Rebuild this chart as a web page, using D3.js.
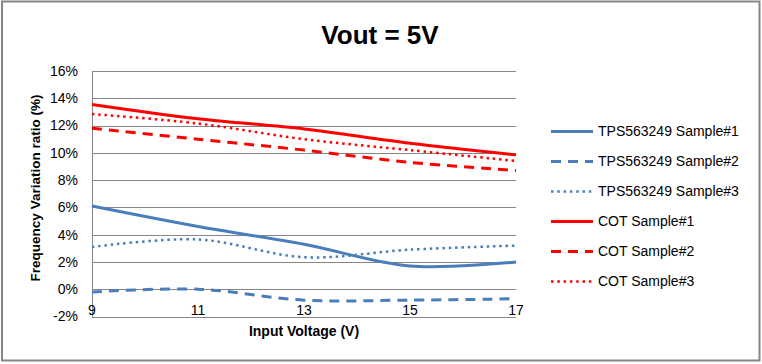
<!DOCTYPE html>
<html><head><meta charset="utf-8">
<script src="https://cdn.jsdelivr.net/npm/d3@7"></script>
<style>
html,body{margin:0;padding:0;background:#fff;}
svg{display:block;font-family:"Liberation Sans",Arial,sans-serif;}
</style></head>
<body>
<svg id="chart" width="762" height="364"></svg>
<script>
const inputVoltage = [9, 11, 13, 15, 17];
const tpsSample1 = [6.1, 4.6, 3.3, 1.7, 2.0];
const tpsSample2 = [-0.2, 0.0, -0.8, -0.8, -0.7];
const tpsSample3 = [3.1, 3.65, 2.35, 2.9, 3.2];
const cotSample1 = [13.55, 12.5, 11.75, 10.7, 9.85];
const cotSample2 = [11.8, 11.0, 10.2, 9.3, 8.7];
const cotSample3 = [12.85, 12.15, 11.0, 10.2, 9.4];
const seriesNames = ["TPS563249 Sample#1","TPS563249 Sample#2","TPS563249 Sample#3","COT Sample#1","COT Sample#2","COT Sample#3"];
const yTicks = [-2, 0, 2, 4, 6, 8, 10, 12, 14, 16];
const xTicks = [9, 11, 13, 15, 17];

const seriesValues = [tpsSample1, tpsSample2, tpsSample3, cotSample1, cotSample2, cotSample3];
const styles = [
  {color:"#4A7EBB", dash:null, w:3},
  {color:"#4A7EBB", dash:"10,7", w:3},
  {color:"#4A7EBB", dash:"2.5,3.8", w:2.5},
  {color:"#FF0000", dash:null, w:3},
  {color:"#FF0000", dash:"10,7", w:3},
  {color:"#FF0000", dash:"2.5,3.8", w:2.5}
];

const svg = d3.select("#chart");
const pLeft = 92, pRight = 516, pTop = 71, pBottom = 316.5;
const x = d3.scaleLinear().domain([9, 17]).range([pLeft, pRight]);
const y = d3.scaleLinear().domain([-2, 16]).range([pBottom, pTop]);

// chart frame
svg.append("rect").attr("x", 2).attr("y", 1.5).attr("width", 757.5).attr("height", 359)
  .attr("fill", "#fff").attr("stroke", "#868686").attr("stroke-width", 2);

// title
svg.append("text").attr("x", 380).attr("y", 44).attr("text-anchor", "middle")
  .attr("font-size", 26).attr("font-weight", "bold").text("Vout = 5V");

// gridlines
svg.append("g").selectAll("line").data(yTicks).join("line")
  .attr("x1", pLeft).attr("x2", pRight)
  .attr("y1", d => Math.round(y(d)) + 0.5).attr("y2", d => Math.round(y(d)) + 0.5)
  .attr("stroke", "#868686").attr("stroke-width", 1);
// left axis line
svg.append("line").attr("x1", pLeft + 0.5).attr("x2", pLeft + 0.5).attr("y1", pTop).attr("y2", pBottom + 1)
  .attr("stroke", "#868686").attr("stroke-width", 1);

// y tick labels
svg.append("g").selectAll("text").data(yTicks).join("text")
  .attr("x", 78).attr("y", d => y(d)).attr("dy", "0.35em").attr("text-anchor", "end")
  .attr("font-size", 14).attr("fill", "#000").text(d => d + "%");

// x tick labels
svg.append("g").selectAll("text").data(xTicks).join("text")
  .attr("x", d => x(d)).attr("y", 315).attr("text-anchor", "middle")
  .attr("font-size", 14).attr("fill", "#000").text(d => d);

// axis titles
svg.append("text").attr("x", 304).attr("y", 336).attr("text-anchor", "middle")
  .attr("font-size", 14).attr("font-weight", "bold").text("Input Voltage (V)");
svg.append("text").attr("transform", "translate(40,188) rotate(-90)").attr("text-anchor", "middle")
  .attr("font-size", 13.5).attr("font-weight", "bold").text("Frequency Variation ratio (%)");

// lines
const line = d3.line().x(d => x(d[0])).y(d => y(d[1])).curve(d3.curveCatmullRom.alpha(0));
seriesValues.forEach((vals, i) => {
  const pts = inputVoltage.map((v, j) => [v, vals[j]]);
  svg.append("path").attr("d", line(pts)).attr("fill", "none")
    .attr("stroke", styles[i].color).attr("stroke-width", styles[i].w)
    .attr("stroke-dasharray", styles[i].dash);
});

// legend
const lg = svg.append("g");
seriesNames.forEach((name, i) => {
  const cy = 131.5 + i * 30;
  lg.append("line").attr("x1", 551).attr("x2", 593).attr("y1", cy).attr("y2", cy)
    .attr("stroke", styles[i].color).attr("stroke-width", styles[i].w)
    .attr("stroke-dasharray", styles[i].dash);
  lg.append("text").attr("x", 598).attr("y", cy).attr("dy", "0.35em")
    .attr("font-size", 14).text(name);
});
</script>
</body></html>
